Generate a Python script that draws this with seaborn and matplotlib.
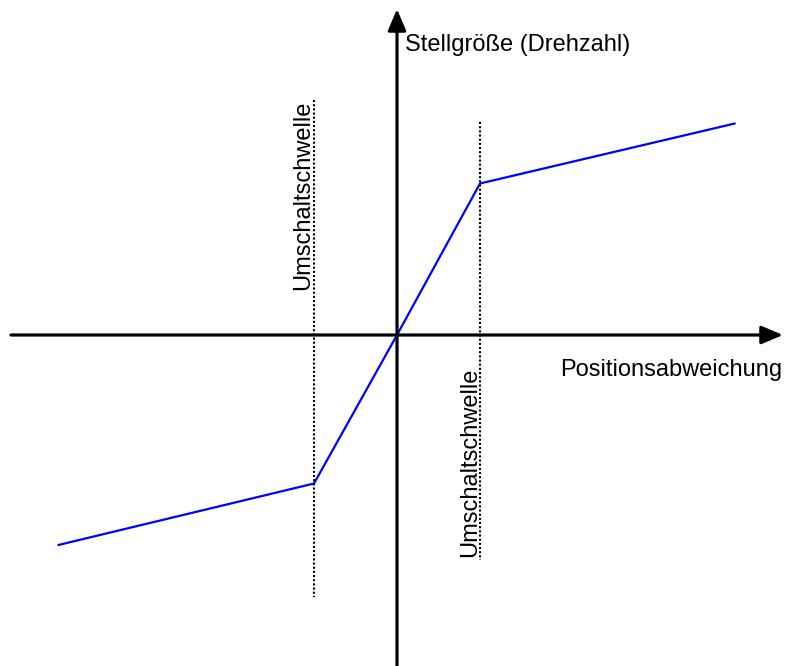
import matplotlib
matplotlib.use("Agg")
import matplotlib.pyplot as plt
import seaborn as sns
import pandas as pd

# Data (unit: switching threshold = 1)
pos_dev = [-4.08, -1.0, 0.0, 1.0, 4.07]
control = [-1.40, -0.99, 0.0, 1.01, 1.41]
thresholds = [-1.0, 1.0]
x_label = "Positionsabweichung"
y_label = "Stellgröße (Drehzahl)"
thr_label = "Umschaltschwelle"

sns.set_style("white")
plt.rcParams['font.family'] = ['Liberation Sans', 'DejaVu Sans']
plt.rcParams['text.color'] = 'black'

fig = plt.figure(figsize=(7.89, 6.66), dpi=100)
ax = fig.add_axes([0, 0, 1, 1])
sx, sy = 83.0, 150.0
ax.set_xlim(-397 / sx, (789 - 397) / sx)
ax.set_ylim(-(666 - 335) / sy, 335 / sy)
ax.axis('off')

df = pd.DataFrame({"x": pos_dev, "y": control})
sns.lineplot(data=df, x="x", y="y", ax=ax, color="#0000ff", linewidth=1.6, sort=False)

# Axes with arrows
ax.annotate("", xy=((783 - 397) / sx, 0), xytext=((11 - 397) / sx, 0),
            arrowprops=dict(arrowstyle="-|>,head_length=1.3,head_width=0.55", color="black", lw=2.3,
                            shrinkA=0, shrinkB=0))
ax.annotate("", xy=(0, (335 - 9) / sy), xytext=(0, -(680 - 335) / sy),
            arrowprops=dict(arrowstyle="-|>,head_length=1.3,head_width=0.55", color="black", lw=2.3,
                            shrinkA=0, shrinkB=0))

# Threshold dotted lines
ax.plot([thresholds[0], thresholds[0]], [(335 - 100) / sy, -(597 - 335) / sy],
        color="black", linestyle=(0, (1, 1)), linewidth=1.5)
ax.plot([thresholds[1], thresholds[1]], [(335 - 122) / sy, -(560 - 335) / sy],
        color="black", linestyle=(0, (1, 1)), linewidth=1.5)

fs = 17
ax.text((303 - 397) / sx, (335 - 195) / sy, thr_label, rotation=90, fontsize=fs,
        ha="center", va="center", color="black")
ax.text((470 - 397) / sx, -(462 - 335) / sy, thr_label, rotation=90, fontsize=fs,
        ha="center", va="center", color="black")
ax.text((405 - 397) / sx, (335 - 45) / sy, y_label, fontsize=fs, ha="left", va="center",
        color="black")
ax.text((782 - 397) / sx, -(370 - 335) / sy, x_label, fontsize=fs, ha="right", va="center",
        color="black")

fig.savefig("out.png", dpi=100)
